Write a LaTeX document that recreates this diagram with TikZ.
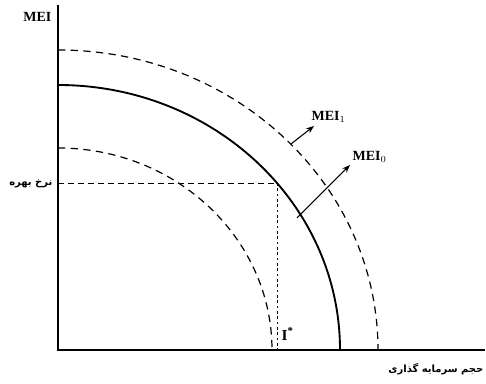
\documentclass[tikz,border=0pt]{standalone}
\usepackage{fontspec}
\setmainfont{Liberation Serif}
\newfontfamily\arabicfont[Script=Arabic]{DejaVu Sans}
\TeXXeTstate=1
\usetikzlibrary{arrows.meta}
\begin{document}
\begin{tikzpicture}[x=0.75pt,y=0.75pt,
  axisline/.style={line width=1.4pt},
  mainarc/.style={line width=1.4pt},
  dasharc/.style={line width=0.9pt,dash pattern=on 5.5pt off 4pt},
  guide/.style={line width=0.7pt,dash pattern=on 4.5pt off 3pt},
  shiftarrow/.style={line width=0.8pt,-{Stealth[length=6pt,width=4.5pt]}},
  lbl/.style={font=\bfseries\fontsize{10.5}{12}\selectfont,inner sep=1pt},
  fa/.style={font=\arabicfont\bfseries\fontsize{7.5}{9}\selectfont,inner sep=1pt}]
\useasboundingbox (-58,-34) rectangle (428,350);
% axes
\coordinate (O) at (0,0);
\coordinate (ytop) at (0,345);
\coordinate (xend) at (427,0);
\draw[axisline] (ytop) -- (O) -- (xend);
% curves
\coordinate (s0) at (0,265);
\coordinate (d1) at (0,300);
\coordinate (d0) at (0,202);
\draw[mainarc] (s0) arc[start angle=90,end angle=0,x radius=282,y radius=265];
\draw[dasharc] (d1) arc[start angle=90,end angle=0,x radius=320,y radius=300];
\draw[dasharc] (d0) arc[start angle=90,end angle=0,x radius=214,y radius=202];
% guides
\coordinate (ry) at (0,167);
\coordinate (E) at (219,167);
\coordinate (Ex) at (219,0);
\draw[guide] (ry) -- (E);
\draw[guide,line width=0.5pt,dash pattern=on 2pt off 2pt] (E) -- (Ex);
% shift arrows
\coordinate (a0s) at (239,132);
\coordinate (a0e) at (292,185);
\draw[shiftarrow] (a0s) -- (a0e);
\coordinate (a1s) at (233,206);
\coordinate (a1e) at (256,224);
\draw[shiftarrow] (a1s) -- (a1e);
% labels
\node[lbl,anchor=south west] (mei0) at (293,186) {MEI$_0$};
\node[lbl,anchor=south west] (mei1) at (252,226) {MEI$_1$};
\node[lbl,anchor=east] (mei) at (-5,333) {MEI};
\node[lbl,font=\bfseries\fontsize{11.5}{12}\selectfont,anchor=west] (istar) at (222,16) {I\textsuperscript{*}};
\node[fa,anchor=east] (rate) at (-4,166) {\beginR نرخ بهره\endR};
\node[fa,anchor=east] (inv) at (427,-19) {\beginR حجم سرمایه گذاری\endR};
\end{tikzpicture}
\end{document}
